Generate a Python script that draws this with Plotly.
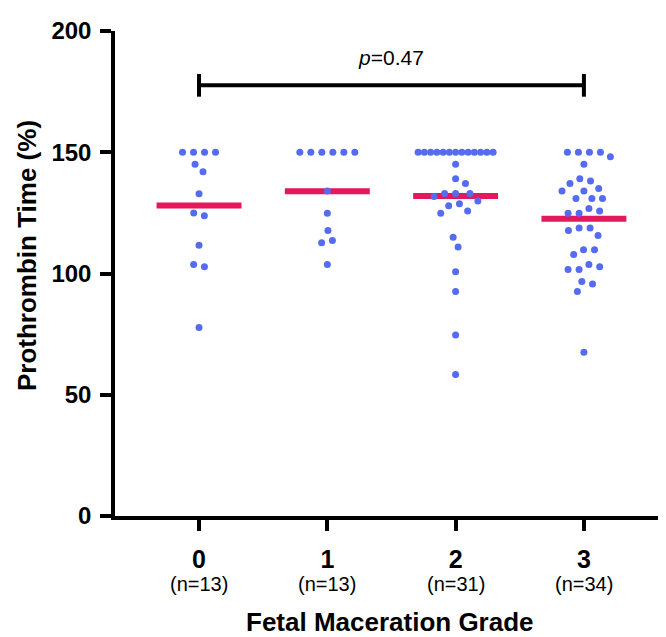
import math
import numpy as np
import plotly.graph_objects as go

# ---------------- data ----------------
categories = ["0", "1", "2", "3"]
n_labels = ["(n=13)", "(n=13)", "(n=31)", "(n=34)"]

grade0 = [150, 150, 150, 150, 145.1, 142.0, 132.9, 124.9, 123.8, 111.6, 103.7, 102.8, 77.7]
grade1 = [150, 150, 150, 150, 150, 150, 134.0, 124.8, 117.7, 113.6, 112.7, 103.7]
grade2 = [150] * 13 + [145.1, 139.1, 137.1, 133.0, 133.0, 133.0, 131.8, 129.9, 128.8,
                       127.9, 125.8, 124.8, 114.9, 110.9, 100.7, 92.6, 74.6, 58.3]
grade3 = [150, 150, 150, 150, 148.1, 145.1, 138.1, 137.1, 139.1, 134.0, 134.0, 135.1,
          130.9, 130.9, 130.9, 126.8, 124.8, 124.8, 125.8, 118.8, 115.7, 117.7, 118.8,
          109.8, 107.8, 109.8, 102.8, 101.7, 101.7, 103.7, 95.7, 96.7, 92.6, 67.5]
groups = [grade0, grade1, grade2, grade3]

y_ticks = [0, 50, 100, 150, 200]
p_text = "<i>p</i>=0.47"
bracket_ends = [0, 3]
bracket_y = 177.6

# ---------------- layout geometry ----------------
W, H = 666, 637
ML, MR, MT, MB = 107, 9, 17, 129
PW, PH = W - ML - MR, H - MT - MB
X_RANGE = [-0.655, 3.632]
Y_RANGE = [0, 200]
XPX = PW / (X_RANGE[1] - X_RANGE[0])
YPX = PH / (Y_RANGE[1] - Y_RANGE[0])

DOT_GAP = 11.0      # px between dot centres
MAX_SPAN = 75.0     # px max width of a compressed row of identical values
DOT_COLOR = "#566CF0"
MEAN_COLOR = "#E5175D"
FONT = "Liberation Sans, Arial, Helvetica, sans-serif"


def swarm(vals):
    """Prism-like beeswarm offsets (px) for one column."""
    n = len(vals)
    xs = [None] * n
    fixed = [False] * n
    counts = {}
    for v in vals:
        counts[v] = counts.get(v, 0) + 1
    for v, k in counts.items():
        if k >= 4:
            idx = [i for i in range(n) if vals[i] == v]
            sp = min(DOT_GAP, MAX_SPAN / (k - 1))
            for j, i in enumerate(idx):
                xs[i] = (j - (k - 1) / 2) * sp
                fixed[i] = True
    order = sorted(range(n), key=lambda i: -vals[i])
    for i in order:
        if xs[i] is not None:
            continue
        ivs = []
        for j in range(n):
            if xs[j] is None:
                continue
            dy = abs(vals[i] - vals[j]) * YPX
            if dy < DOT_GAP:
                h = math.sqrt(DOT_GAP ** 2 - dy ** 2)
                ivs.append((xs[j] - h, xs[j] + h))
        cands = [0.0] + [a for a, b in ivs] + [b for a, b in ivs]
        ok = [c for c in cands if all(not (a + 1e-6 < c < b - 1e-6) for a, b in ivs)]
        xs[i] = min(ok, key=lambda c: (round(abs(c), 6), -c))

    # centre loose clusters
    def dist(i, j):
        return math.hypot(xs[i] - xs[j], (vals[i] - vals[j]) * YPX)

    parent = list(range(n))

    def find(a):
        while parent[a] != a:
            parent[a] = parent[parent[a]]
            a = parent[a]
        return a

    for i in range(n):
        for j in range(i + 1, n):
            if dist(i, j) < DOT_GAP * 1.1:
                parent[find(i)] = find(j)
    comps = {}
    for i in range(n):
        comps.setdefault(find(i), []).append(i)
    for comp in comps.values():
        if len(comp) < 2 or any(fixed[i] for i in comp):
            continue
        shift = -sum(xs[i] for i in comp) / len(comp)
        old = [xs[i] for i in comp]
        for i in comp:
            xs[i] += shift
        bad = any(dist(i, j) < DOT_GAP * 0.95 for i in comp for j in range(n) if j not in comp)
        if bad:
            for i, o in zip(comp, old):
                xs[i] = o
    return xs


fig = go.Figure()
shapes = []

# mean lines (under the dots)
for gi, vals in enumerate(groups):
    m = float(np.mean(vals))
    fig.add_trace(go.Scatter(x=[gi - 0.331, gi + 0.331], y=[m, m], mode="lines",
                             line=dict(color=MEAN_COLOR, width=6), hoverinfo="skip",
                             showlegend=False))

for gi, vals in enumerate(groups):
    offs = swarm(vals)
    xs = [gi + o / XPX for o in offs]
    fig.add_trace(go.Scatter(x=xs, y=vals, mode="markers",
                             marker=dict(color=DOT_COLOR, size=7, line=dict(width=0)),
                             showlegend=False))

# significance bracket
cap = 11.5 / YPX
bx0, bx1 = bracket_ends
shapes.append(dict(type="line", xref="x", yref="y", x0=bx0, x1=bx1, y0=bracket_y, y1=bracket_y,
                   line=dict(color="black", width=4)))
for bx in bracket_ends:
    shapes.append(dict(type="line", xref="x", yref="y", x0=bx, x1=bx,
                       y0=bracket_y - cap, y1=bracket_y + cap, line=dict(color="black", width=4)))

annotations = [
    dict(x=(bx0 + bx1) / 2, y=bracket_y, xref="x", yref="y", text=p_text, showarrow=False,
         yanchor="bottom", yshift=14, font=dict(size=21, color="black", family=FONT)),
    dict(x=0.5, y=-0.219, xref="paper", yref="paper", text="Fetal Maceration Grade",
         showarrow=False, yanchor="middle",
         font=dict(size=26, color="black", family=FONT, weight="bold")),
    dict(x=-0.16, y=0.536, xref="paper", yref="paper", text="Prothrombin Time (%)",
         showarrow=False, textangle=-90, xanchor="center", yanchor="middle",
         font=dict(size=26, color="black", family=FONT, weight="bold")),
]
for gi, lab in enumerate(n_labels):
    annotations.append(dict(x=gi, y=-0.141, xref="x", yref="paper", text=lab, showarrow=False,
                            yanchor="middle", font=dict(size=20, color="black", family=FONT)))

axis_common = dict(showline=True, linewidth=3.5, linecolor="black", ticks="outside",
                   ticklen=11, tickwidth=3.5, tickcolor="black", showgrid=False,
                   zeroline=False, mirror=False)

fig.update_layout(
    width=W, height=H,
    margin=dict(l=ML, r=MR, t=MT, b=MB, pad=0),
    paper_bgcolor="white", plot_bgcolor="white",
    shapes=shapes, annotations=annotations,
    xaxis=dict(range=X_RANGE, tickvals=list(range(len(categories))), ticktext=categories,
               ticklabelstandoff=7,
               tickfont=dict(size=25, color="black", family=FONT, weight="bold"),
               **axis_common),
    yaxis=dict(range=Y_RANGE, tickvals=y_ticks, ticktext=[str(t) for t in y_ticks],
               ticklabelstandoff=4,
               tickfont=dict(size=24, color="black", family=FONT, weight="bold"),
               **axis_common),
    showlegend=False,
)

fig.write_html("out.html")
